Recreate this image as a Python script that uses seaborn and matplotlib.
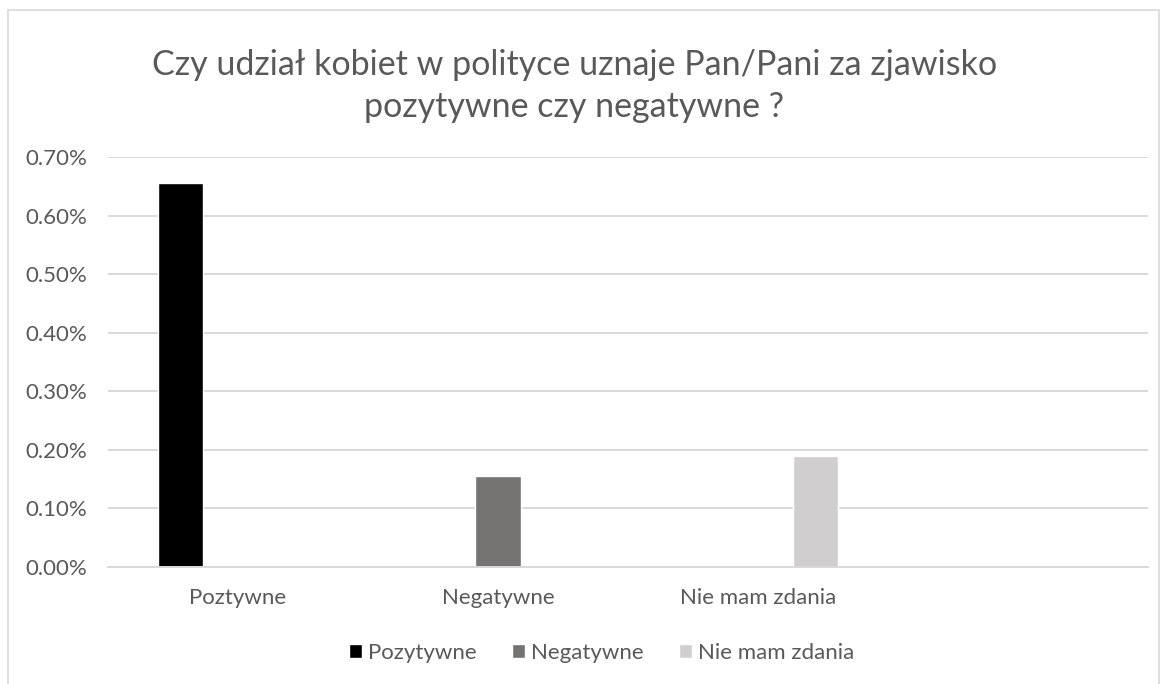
import pandas as pd
import seaborn as sns
import matplotlib.pyplot as plt
from matplotlib.patches import Rectangle
from matplotlib.ticker import FuncFormatter

# categories on the x axis (fourth slot is empty, as in the original sheet)
categories = ["Poztywne", "Negatywne", "Nie mam zdania", " "]
# series names shown in the legend
series = ["Pozytywne", "Negatywne", "Nie mam zdania"]
# one value per series, each sitting in its own category (percent)
values = [0.656, 0.155, 0.19]
colors = ["#000000", "#767171", "#D0CECE"]

df = pd.DataFrame({
    "kategoria": categories[:3],
    "seria": series,
    "procent": values,
})

sns.set_theme(style="white")
plt.rcParams["font.family"] = ["Lato", "DejaVu Sans"]

fig = plt.figure(figsize=(11.65, 6.84), dpi=100)
ax = fig.add_axes([0.0927, 0.171, 0.8927, 0.5995])

sns.barplot(data=df, x="kategoria", y="procent", hue="seria",
            order=categories, hue_order=series, palette=colors,
            width=0.66, gap=0.21, dodge=True, ax=ax, legend=True)

ax.set_ylim(0, 0.7)
ax.set_xlim(-0.5, 3.5)
ax.set_yticks([i / 10 for i in range(8)])
ax.yaxis.set_major_formatter(FuncFormatter(lambda v, p: f"{v:.2f}%"))
ax.grid(axis="y", color="#D9D9D9", linewidth=1.4)
ax.set_axisbelow(True)
for side in ["left", "right", "top"]:
    ax.spines[side].set_visible(False)
ax.spines["bottom"].set_color("#D9D9D9")
ax.spines["bottom"].set_linewidth(1.4)
ax.tick_params(axis="both", length=0, labelsize=16, labelcolor="#595959")
ax.tick_params(axis="y", pad=15)
ax.tick_params(axis="x", pad=15)
ax.set_xlabel("")
ax.set_ylabel("")

fig.text(0.493, 0.905, "Czy udział kobiet w polityce uznaje Pan/Pani za zjawisko",
         ha="center", va="center", fontsize=24.5, color="#595959")
fig.text(0.493, 0.843, "pozytywne czy negatywne ?",
         ha="center", va="center", fontsize=24.5, color="#595959")

handles, labels = ax.get_legend_handles_labels()
ax.legend(handles, labels, loc="center", bbox_to_anchor=(0.4745, -0.21),
          ncol=3, frameon=False, fontsize=16, labelcolor="#595959",
          handlelength=0.6, handleheight=0.6, handletextpad=0.25,
          columnspacing=1.6)

# light frame around the chart area
fig.patches.append(Rectangle((0.007, -0.02), 0.988, 1.006,
                             transform=fig.transFigure, fill=False,
                             edgecolor="#D9D9D9", linewidth=1.2))

fig.savefig("out.png", dpi=100, facecolor="white")
